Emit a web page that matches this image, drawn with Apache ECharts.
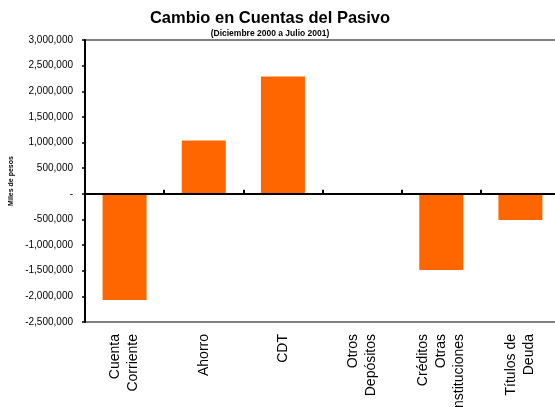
<!DOCTYPE html>
<html>
<head>
<meta charset="utf-8">
<script src="https://cdn.jsdelivr.net/npm/echarts@6/dist/echarts.min.js"></script>
<style>
  html, body { margin: 0; padding: 0; background: #fff; }
  #chart { width: 555px; height: 407px; }
</style>
</head>
<body>
<div id="chart"></div>
<script>
// Liability accounts and their change, Dec 2000 – Jul 2001
const categories = [
  'Cuenta\nCorriente',
  'Ahorro',
  'CDT',
  'Otros\nDepósitos',
  'Créditos\nOtras\nInstituciones',
  'Títulos de\nDeuda'
];
const changeValues = [-2070000, 1040000, 2290000, -25000, -1485000, -510000];

const yMin = -2500000;
const yMax = 3000000;
const yStep = 500000;

const titleText = 'Cambio en Cuentas del Pasivo';
const subtitleText = '(Diciembre 2000 a Julio 2001)';
const yAxisName = 'Miles de pesos';

const FONT = '"Liberation Sans", Arial, sans-serif';

function formatTick(v) {
  if (v === 0) return '-';
  const s = Math.abs(v).toString().replace(/\B(?=(\d{3})+(?!\d))/g, ',');
  return (v < 0 ? '-' : '') + s;
}

const chart = echarts.init(document.getElementById('chart'), null, { renderer: 'canvas' });

chart.setOption({
  backgroundColor: '#ffffff',
  animation: false,
  title: {
    text: titleText,
    subtext: subtitleText,
    left: 265,
    textAlign: 'center',
    top: 5,
    itemGap: 2,
    textStyle: { fontFamily: FONT, fontSize: 16.5, fontWeight: 'bold', color: '#000' },
    subtextStyle: { fontFamily: FONT, fontSize: 8.5, fontWeight: 'bold', color: '#000' }
  },
  grid: {
    left: 85, right: -5, top: 40, bottom: 85,
    containLabel: false,
    outerBoundsMode: 'none'
  },
  xAxis: [
    {
      // zero line with category separators
      type: 'category',
      data: categories,
      position: 'bottom',
      z: 5,
      axisLine: { onZero: true, lineStyle: { color: '#000', width: 2 } },
      axisTick: { show: true, inside: true, interval: 0, length: 4, lineStyle: { color: '#000', width: 2 } },
      axisLabel: { show: false },
      splitLine: { show: false }
    },
    {
      // bottom frame line carrying the category names
      type: 'category',
      data: categories,
      position: 'bottom',
      axisLine: { onZero: false, lineStyle: { color: '#808080', width: 2 } },
      axisTick: { show: false },
      axisLabel: {
        show: true,
        rotate: 90,
        margin: 12,
        interval: 0,
        fontFamily: FONT,
        fontSize: 14,
        lineHeight: 18,
        color: '#000'
      },
      splitLine: { show: false }
    },
    {
      // top frame line
      type: 'category',
      data: categories,
      position: 'top',
      axisLine: { onZero: false, lineStyle: { color: '#808080', width: 2 } },
      axisTick: { show: false },
      axisLabel: { show: false },
      splitLine: { show: false }
    }
  ],
  yAxis: {
    type: 'value',
    min: yMin,
    max: yMax,
    interval: yStep,
    z: 6,
    name: yAxisName,
    nameLocation: 'middle',
    nameRotate: 90,
    nameGap: 63,
    nameTextStyle: { fontFamily: FONT, fontSize: 7, fontWeight: 'bold', color: '#000' },
    axisLine: { show: true, lineStyle: { color: '#000', width: 2 } },
    axisTick: { show: true, inside: false, length: 3, lineStyle: { color: '#000', width: 1.5 } },
    axisLabel: {
      formatter: formatTick,
      margin: 12,
      fontFamily: FONT,
      fontSize: 10,
      color: '#000'
    },
    splitLine: { show: false }
  },
  series: [
    {
      type: 'bar',
      xAxisIndex: 0,
      data: changeValues,
      barWidth: 44,
      itemStyle: { color: '#FF6600' }
    }
  ]
});
</script>
</body>
</html>
